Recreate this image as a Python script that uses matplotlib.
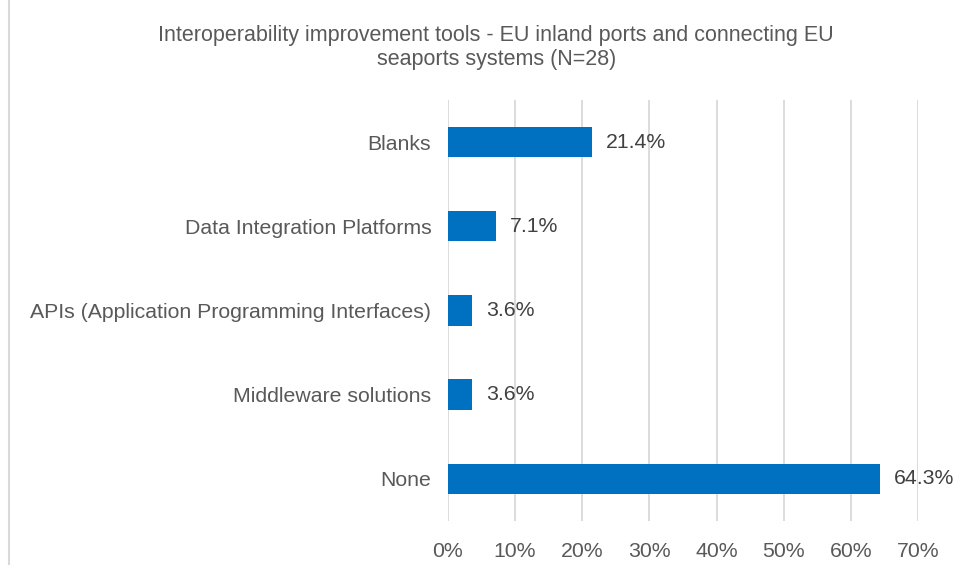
import matplotlib.pyplot as plt
from matplotlib.lines import Line2D
import numpy as np

plt.rcParams["font.family"] = ["Liberation Sans", "DejaVu Sans"]

categories = ["Blanks", "Data Integration Platforms",
              "APIs (Application Programming Interfaces)",
              "Middleware solutions", "None"]
shares = [21.4, 7.1, 3.6, 3.6, 64.3]
xticks = [0, 10, 20, 30, 40, 50, 60, 70]

bar_color = "#0070C0"
text_color = "#595959"
grid_color = "#D9D9D9"

fig = plt.figure(figsize=(9.58, 5.65), dpi=100)
ax = fig.add_axes([0.4676, 0.078, 0.4906, 0.745])

y = np.arange(len(categories))
bars = ax.barh(y, shares, height=0.36, color=bar_color, zorder=3)

for rect, v in zip(bars, shares):
    ax.text(rect.get_width() + 2.1, rect.get_y() + rect.get_height() / 2,
            f"{v:.1f}%", va="center", ha="left", fontsize=15.3, color="#404040")

ax.set_yticks(y)
ax.set_yticklabels(categories)
ax.set_ylim(len(categories) - 0.5, -0.5)
ax.set_xlim(0, 70)
ax.set_xticks(xticks)
ax.set_xticklabels([f"{t}%" for t in xticks])
ax.tick_params(axis="both", length=0, labelsize=15.3, colors=text_color)
ax.tick_params(axis="y", pad=12)
ax.tick_params(axis="x", pad=15)
ax.grid(axis="x", color=grid_color, linewidth=1.3, zorder=0)
for s in ax.spines.values():
    s.set_visible(False)

fig.text(0.518, 0.916,
         "Interoperability improvement tools - EU inland ports and connecting EU\n"
         "seaports systems (N=28)",
         ha="center", va="center", fontsize=15.5, color=text_color,
         linespacing=1.2)

# thin frame line on the left edge
fig.add_artist(Line2D([0.0094, 0.0094], [0, 1], color=grid_color,
                      linewidth=1.5, transform=fig.transFigure))

plt.savefig("out.png", dpi=100)
